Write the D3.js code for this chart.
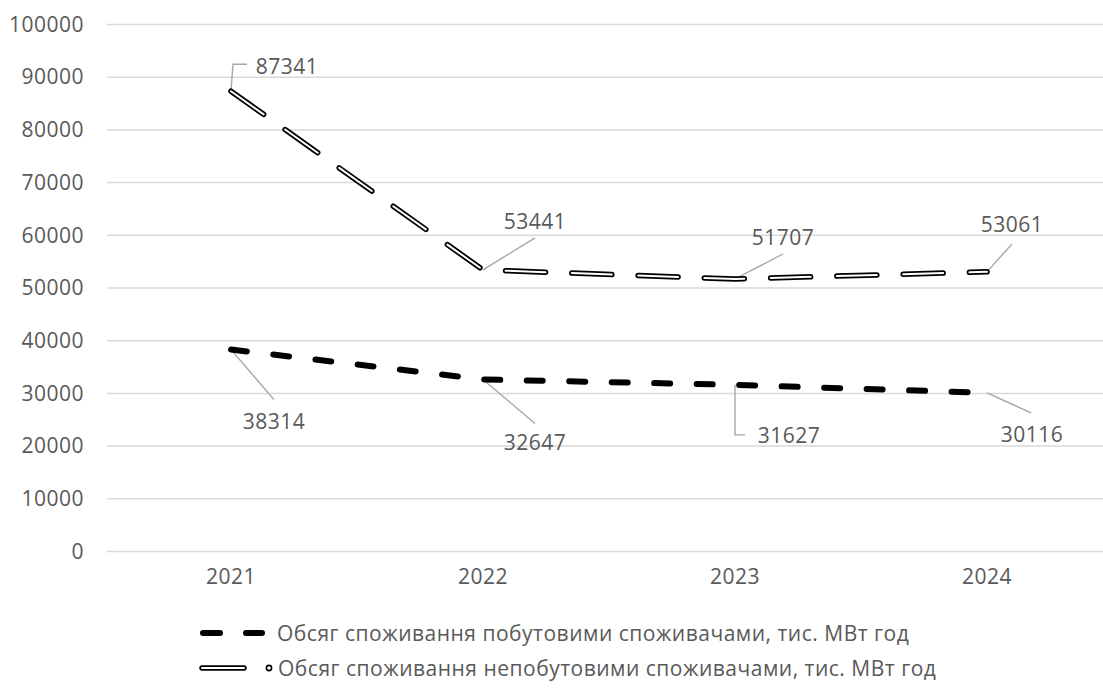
<!DOCTYPE html>
<html>
<head>
<meta charset="utf-8">
<script src="https://cdn.jsdelivr.net/npm/d3@7"></script>
<style>
  html, body { margin: 0; padding: 0; background: #fff; }
  svg { display: block; font-family: "Open Sans", Roboto, sans-serif; }
  svg text { letter-spacing: 0.5px; }
</style>
</head>
<body>
<svg id="chart" width="1103" height="690"></svg>
<script>
// Electricity consumption, thousand MWh
const years = ["2021", "2022", "2023", "2024"];
const household = [38314, 32647, 31627, 30116];
const nonHousehold = [87341, 53441, 51707, 53061];
const yTicks = [0, 10000, 20000, 30000, 40000, 50000, 60000, 70000, 80000, 90000, 100000];
const seriesNames = [
  "Обсяг споживання побутовими споживачами, тис. МВт год",
  "Обсяг споживання непобутовими споживачами, тис. МВт год"
];

// Data-label placement: text centre offset and leader polyline, relative to the point
const householdLabelLayout = [
  { dx: 43, dy: 71, leader: [[0, 0], [43, 50]] },
  { dx: 52, dy: 63, leader: [[0, 0], [52, 44]] },
  { dx: 54, dy: 50, leader: [[0, 0], [0, 50], [10, 50]] },
  { dx: 45, dy: 41, leader: [[0, 0], [44, 20]] }
];
const nonHouseholdLabelLayout = [
  { dx: 56, dy: -25, leader: [[0, 0], [2, -27], [16, -27]] },
  { dx: 52, dy: -49, leader: [[0, 0], [52, -32]] },
  { dx: 48, dy: -42, leader: [[0, 0], [48, -25]] },
  { dx: 25, dy: -48, leader: [[0, 0], [25, -28]] }
];

const svg = d3.select("#chart");
const font = "'Open Sans', Roboto, sans-serif";
const textColor = "#595959";
const gridColor = "#d9d9d9";
const fontSize = 21;

const x = d3.scaleBand().domain(years).range([105, 1113]);
const y = d3.scaleLinear().domain([0, 100000]).range([551.5, 24.5]);
const cx = d => x(d) + x.bandwidth() / 2;

// Horizontal gridlines and y axis labels
const yAxis = d3.axisLeft(y).tickValues(yTicks).tickFormat(d3.format("d")).tickSize(0).tickPadding(0);
const yG = svg.append("g").attr("transform", "translate(84,0)").call(yAxis);
yG.select(".domain").remove();
yG.selectAll("text").attr("fill", textColor).style("font-size", fontSize + "px")
  .style("font-family", font);

svg.append("g").selectAll("line").data(yTicks).join("line")
  .attr("x1", 107).attr("x2", 1113)
  .attr("y1", d => y(d)).attr("y2", d => y(d))
  .attr("stroke", gridColor).attr("stroke-width", 1.5);

// Category axis labels
const xAxis = d3.axisBottom(x).tickSize(0).tickPadding(0);
const xG = svg.append("g").attr("transform", "translate(0,569)").call(xAxis);
xG.select(".domain").remove();
xG.selectAll("text").attr("fill", textColor).style("font-size", fontSize + "px")
  .style("font-family", font);

// Leader lines and data labels
function drawLabels(values, layout) {
  const g = svg.append("g");
  values.forEach((v, i) => {
    const px = cx(years[i]), py = y(v);
    const L = layout[i];
    g.append("path")
      .attr("d", d3.line()(L.leader.map(p => [px + p[0], py + p[1]])))
      .attr("fill", "none").attr("stroke", "#a6a6a6").attr("stroke-width", 1.4);
    g.append("text")
      .attr("x", px + L.dx).attr("y", py + L.dy)
      .attr("text-anchor", "middle").attr("dominant-baseline", "central")
      .attr("fill", textColor).style("font-size", fontSize + "px")
      .text(v);
  });
}
drawLabels(household, householdLabelLayout);
drawLabels(nonHousehold, nonHouseholdLabelLayout);

const line = d3.line().x((d, i) => cx(years[i])).y(d => y(d));

// Household series: thick black dashes
svg.append("path").datum(household).attr("d", line)
  .attr("fill", "none").attr("stroke", "#000").attr("stroke-width", 6)
  .attr("stroke-linecap", "round").attr("stroke-linejoin", "round")
  .attr("stroke-dasharray", "16 26.5");

// Non-household series: double (outlined) dashes
const dbl = "40 26.3";
svg.append("path").datum(nonHousehold).attr("d", line)
  .attr("fill", "none").attr("stroke", "#000").attr("stroke-width", 5.5)
  .attr("stroke-linecap", "round").attr("stroke-linejoin", "round")
  .attr("stroke-dasharray", dbl);
svg.append("path").datum(nonHousehold).attr("d", line)
  .attr("fill", "none").attr("stroke", "#fff").attr("stroke-width", 2)
  .attr("stroke-linecap", "round").attr("stroke-linejoin", "round")
  .attr("stroke-dasharray", dbl);

// Legend
const legend = svg.append("g");
legend.append("line").attr("x1", 203).attr("x2", 262).attr("y1", 633).attr("y2", 633)
  .attr("stroke", "#000").attr("stroke-width", 6).attr("stroke-linecap", "round")
  .attr("stroke-dasharray", "17 26");
legend.append("text").attr("x", 277).attr("y", 633).attr("dominant-baseline", "central")
  .attr("fill", textColor).style("font-size", fontSize + "px").text(seriesNames[0]);

legend.append("line").attr("x1", 202).attr("x2", 244).attr("y1", 668).attr("y2", 668)
  .attr("stroke", "#000").attr("stroke-width", 5.5).attr("stroke-linecap", "round");
legend.append("line").attr("x1", 202).attr("x2", 244).attr("y1", 668).attr("y2", 668)
  .attr("stroke", "#fff").attr("stroke-width", 2).attr("stroke-linecap", "round");
legend.append("circle").attr("cx", 269).attr("cy", 668).attr("r", 2.6)
  .attr("fill", "#fff").attr("stroke", "#000").attr("stroke-width", 1.6);
legend.append("text").attr("x", 278).attr("y", 668).attr("dominant-baseline", "central")
  .attr("fill", textColor).style("font-size", fontSize + "px").text(seriesNames[1]);
</script>
</body>
</html>
